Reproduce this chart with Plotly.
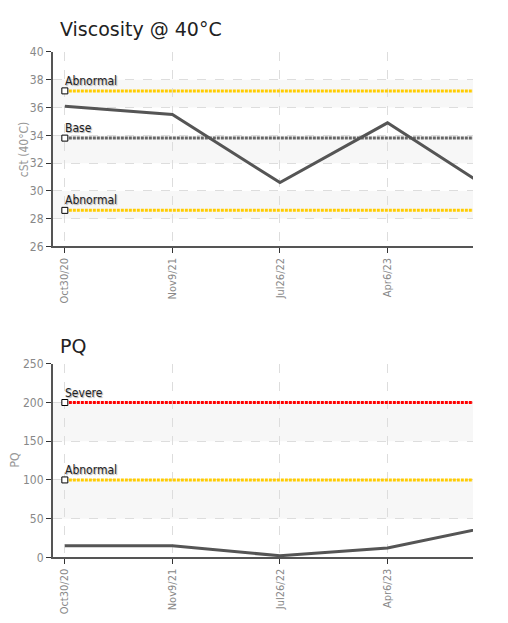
import plotly.graph_objects as go

categories = ["Oct30/20", "Nov9/21", "Jul26/22", "Apr6/23", "Dec12/23"]
visc_values = [36.1, 35.5, 30.6, 34.9, 29.9]
pq_values = [15, 15, 2, 12, 41]

visc_limits = [("Abnormal", 37.2, "#FFCC00"), ("Base", 33.8, "#666666"), ("Abnormal", 28.6, "#FFCC00")]
pq_limits = [("Severe", 200, "#FF0000"), ("Abnormal", 100, "#FFCC00")]

visc_ticks = [26, 28, 30, 32, 34, 36, 38, 40]
pq_ticks = [0, 50, 100, 150, 200, 250]

W, H = 508, 623
COND = "DejaVu Sans Condensed, Liberation Sans Narrow, sans-serif"

fig = go.Figure()

def px_dom_x(a, b):
    return [a / W, b / W]

def px_dom_y(top, bottom):
    return [1 - bottom / H, 1 - top / H]

xidx = list(range(len(categories)))
panels = [
    dict(xa="x", ya="y", xname="xaxis", yname="yaxis", values=visc_values, limits=visc_limits,
         ticks=visc_ticks, top=46, bottom=245, title="Viscosity @ 40°C", ytitle="cSt (40°C)",
         title_y=22, ytitle_x=24),
    dict(xa="x2", ya="y2", xname="xaxis2", yname="yaxis2", values=pq_values, limits=pq_limits,
         ticks=pq_ticks, top=365, bottom=563, title="PQ", ytitle="PQ", title_y=347, ytitle_x=15),
]

shapes = []
annotations = []
for p in panels:
    t = p["ticks"]
    for i in range(1, len(t) - 1, 2):
        shapes.append(dict(type="rect", xref=p["xa"] + " domain", yref=p["ya"], x0=0, x1=1,
                           y0=t[i], y1=t[i + 1], fillcolor="#F7F7F7", line_width=0, layer="below"))
    for name, val, col in p["limits"]:
        fig.add_trace(go.Scatter(x=[xidx[0], xidx[-1]], y=[val, val], xaxis=p["xa"], yaxis=p["ya"],
                                 mode="lines", line=dict(color=col, width=3, dash="3px,1px"),
                                 hoverinfo="skip", showlegend=False))
        fig.add_trace(go.Scatter(x=[xidx[0]], y=[val], xaxis=p["xa"], yaxis=p["ya"], mode="markers",
                                 marker=dict(symbol="square", size=6, color="white",
                                             line=dict(color="black", width=1)),
                                 hoverinfo="skip", showlegend=False))
        annotations.append(dict(x=xidx[0], y=val, xref=p["xa"], yref=p["ya"], text=name,
                                showarrow=False, xanchor="left", yanchor="bottom", xshift=-2, yshift=1,
                                font=dict(family=COND, size=12, color="#222222",
                                          shadow="1px 1px 1px #aaaaaa")))
    fig.add_trace(go.Scatter(x=xidx, y=p["values"], xaxis=p["xa"], yaxis=p["ya"], mode="lines",
                             line=dict(color="#555555", width=3), showlegend=False))
    annotations.append(dict(x=58 / W, y=1 - p["title_y"] / H, xref="paper", yref="paper",
                            text=p["title"], showarrow=False, xanchor="left", yanchor="middle",
                            font=dict(family="DejaVu Sans", size=19, color="#222222")))
    annotations.append(dict(x=p["ytitle_x"] / W, y=1 - (p["top"] + p["bottom"]) / 2 / H,
                            xref="paper", yref="paper", text=p["ytitle"], showarrow=False,
                            textangle=-90, xanchor="center", yanchor="middle",
                            font=dict(family=COND, size=12, color="#999999")))

    fig.layout[p["xname"]] = dict(
        domain=px_dom_x(53, 473), range=[-0.11, 3.795], tickmode="array", tickvals=xidx,
        ticktext=categories, tickangle=-90, showgrid=True, gridcolor="#DDDDDD", griddash="dash",
        gridwidth=1, showline=True, linecolor="#555555", linewidth=2, ticks="outside", ticklen=5,
        tickcolor="#333333", tickfont=dict(family=COND, size=11, color="#888888"), zeroline=False,
        anchor=p["ya"], fixedrange=True)
    fig.layout[p["yname"]] = dict(
        domain=px_dom_y(p["top"], p["bottom"]), range=[t[0], t[-1]], tickmode="array", tickvals=t,
        showgrid=True, gridcolor="#DDDDDD", griddash="dash", gridwidth=1, showline=True,
        linecolor="#555555", linewidth=2, ticks="outside", ticklen=5, tickcolor="#333333",
        tickfont=dict(family=COND, size=12, color="#888888"), zeroline=False, anchor=p["xa"],
        fixedrange=True)

fig.update_layout(width=W, height=H, margin=dict(l=0, r=0, t=0, b=0), plot_bgcolor="white",
                  paper_bgcolor="white", shapes=shapes, annotations=annotations, showlegend=False)

fig.write_html("out.html", config={"displayModeBar": False},
               post_script="document.body.style.margin='0';document.body.style.overflow='hidden';")
